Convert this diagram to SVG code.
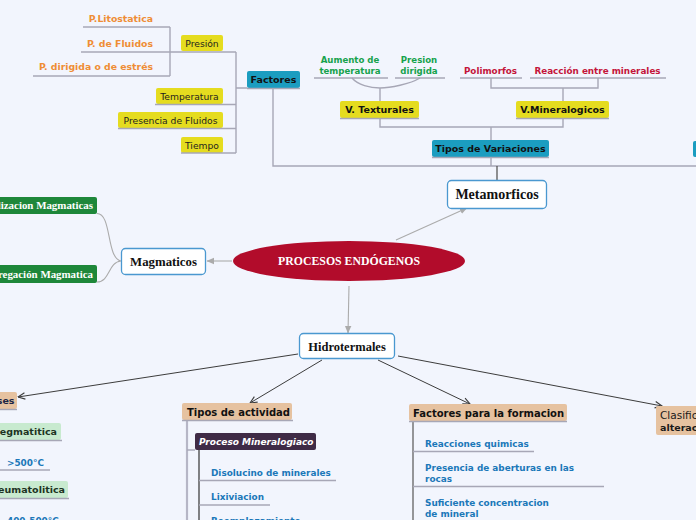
<svg xmlns="http://www.w3.org/2000/svg" width="696" height="520" viewBox="0 0 696 520">
<defs>
<style>
.bg{fill:#f2f5fd}
.ln{stroke:#a7a7b6;stroke-width:1.4;fill:none}
.dk{stroke:#4a4a4a;stroke-width:1.2;fill:none}
.ga{stroke:#ababab;stroke-width:1.1;fill:none}
.ha{stroke:#3c3c3c;stroke-width:1;fill:none}
.yel{fill:#e5dc1f}
.teal{fill:#1b9dc0}
.tan{fill:#e6c2a0}
.lg{fill:#c8eacf}
.dg{fill:#1e873a}
.pur{fill:#3f2b46}
.box{fill:#ffffff;stroke:#4a98d0;stroke-width:1.3}
.s{font-family:"DejaVu Sans",Verdana,sans-serif}
.sf{font-family:"Liberation Serif","Times New Roman",serif;font-weight:bold}
.b{font-weight:bold}
.yt{font-size:9.2px;fill:#1e1e1e;text-anchor:middle}
.hd{font-size:9.5px;fill:#111;font-weight:bold}
.or{font-size:9.3px;fill:#ef8d35;font-weight:bold;text-anchor:end}
.gr{font-size:8.6px;fill:#16a24c;font-weight:bold;text-anchor:middle}
.rd{font-size:8.8px;fill:#c4153a;font-weight:bold;text-anchor:middle}
.bl{font-size:8.9px;fill:#1b78b9;font-weight:bold}
</style>
<marker id="ag" viewBox="0 0 8 8" refX="7" refY="4" markerWidth="8" markerHeight="8" markerUnits="userSpaceOnUse" orient="auto">
<path d="M0,0.8 L7.5,4 L0,7.2 Z" fill="#ababab"/>
</marker>
<marker id="ad" viewBox="0 0 8 8" refX="7.5" refY="4" markerWidth="8" markerHeight="8" markerUnits="userSpaceOnUse" orient="auto">
<path d="M0.5,0.8 L7.5,4 L0.5,7.2" fill="none" stroke="#3c3c3c" stroke-width="1.1"/>
</marker>
</defs>
<rect class="bg" x="0" y="0" width="696" height="520"/>

<g id="connectors">
<path class="ln" d="M170 27 V76 M170 52 H181"/>
<path class="ln" d="M236 52 V153 M236 88 H247"/>
<path class="ln" d="M273 88 V166 H696"/>
<path class="ln" d="M352 78 C358 85 370 88 380 88 C390 88 410 84 420 78 M380 88 V102"/>
<path class="ln" d="M491 78 V88 H598 V78 M563 88 V102"/>
<path class="ln" d="M380 118 V127 H563 V118 M491 127 V141"/>
<path class="ln" d="M491 157 V166"/>
<path class="dk" d="M497 166 V181"/>
<path class="ga" d="M232 261 H207" marker-end="url(#ag)"/>
<path class="ga" d="M396 240 L467 208" marker-end="url(#ag)"/>
<path class="ga" d="M349 286 L348 333" marker-end="url(#ag)"/>
<path class="ga" d="M97 213.5 C112 213.5 106 258 121 261 M97 282 C110 282 108 262 121 261"/>
<path class="ha" d="M298 354 L18 397" marker-end="url(#ad)"/>
<path class="ha" d="M322 360 L250 403" marker-end="url(#ad)"/>
<path class="ha" d="M378 360 L470 404" marker-end="url(#ad)"/>
<path class="ha" d="M398 356 L662 406" marker-end="url(#ad)"/>
<path d="M187 420 V520" stroke="#b6b6c6" stroke-width="2.2" fill="none"/>
<path class="ln" d="M187 450 H195"/>
<path d="M199 450 V520" stroke="#333" stroke-width="1.2" fill="none"/>
<path d="M413 421 V520" stroke="#555" stroke-width="1.2" fill="none"/>
</g>

<g id="n-litostatica"><text class="s or" x="153" y="22">P.Litostatica</text><path class="ln" d="M83 27 H170"/></g>
<g id="n-pfluidos"><text class="s or" x="153" y="46.5">P. de Fluidos</text><path class="ln" d="M81 52 H170"/></g>
<g id="n-pdirigida"><text class="s or" x="153" y="70">P. dirigida o de estrés</text><path class="ln" d="M33 76 H170"/></g>

<g id="n-presion"><rect class="yel" x="181" y="35" width="42" height="16" rx="2"/><text class="s yt" x="202" y="46.5">Presión</text><path class="ln" d="M181 52 H236"/></g>
<g id="n-temperatura"><rect class="yel" x="156" y="88" width="67" height="16" rx="2"/><text class="s yt" x="189.5" y="99.5">Temperatura</text><path class="ln" d="M155 104.5 H236"/></g>
<g id="n-presencia"><rect class="yel" x="118" y="112" width="105" height="16" rx="2"/><text class="s yt" x="170.5" y="123.5">Presencia de Fluidos</text><path class="ln" d="M118 128.5 H236"/></g>
<g id="n-tiempo"><rect class="yel" x="181" y="137" width="42" height="16" rx="2"/><text class="s yt" x="202" y="148.5">Tiempo</text><path class="ln" d="M181 153 H236"/></g>

<g id="n-factores"><rect class="teal" x="247" y="71" width="53" height="17" rx="2"/><text class="s hd" x="273.5" y="83.3" text-anchor="middle">Factores</text><path class="ln" d="M247 88.5 H300"/></g>

<g id="n-aumento"><text class="s gr" x="350" y="62.5">Aumento de</text><text class="s gr" x="350" y="73.5">temperatura</text><path class="ln" d="M314 78 H388"/></g>
<g id="n-presiondirigida"><text class="s gr" x="419" y="62.5">Presion</text><text class="s gr" x="419" y="73.5">dirigida</text><path class="ln" d="M395 78 H445"/></g>
<g id="n-polimorfos"><text class="s rd" x="490.5" y="74">Polimorfos</text><path class="ln" d="M460 78 H522"/></g>
<g id="n-reaccion"><text class="s rd" x="597.5" y="74">Reacción entre minerales</text><path class="ln" d="M530 78 H666"/></g>

<g id="n-vtexturales"><rect class="yel" x="340" y="101" width="79" height="17" rx="2"/><text class="s hd" x="379.5" y="113.3" text-anchor="middle">V. Texturales</text><path class="ln" d="M340 118.5 H419"/></g>
<g id="n-vmineralogicos"><rect class="yel" x="516" y="101" width="93" height="17" rx="2"/><text class="s hd" x="562.5" y="113.3" text-anchor="middle">V.Mineralogicos</text><path class="ln" d="M516 118.5 H609"/></g>
<g id="n-tiposvariaciones"><rect class="teal" x="432" y="140" width="117" height="17" rx="2"/><text class="s hd" x="490.5" y="152.3" text-anchor="middle">Tipos de Variaciones</text><path class="ln" d="M432 157.5 H549"/></g>
<g id="n-right-teal"><rect class="teal" x="693" y="141" width="20" height="16" rx="2"/></g>

<g id="n-metamorficos"><rect class="box" x="447.5" y="180.5" width="99" height="28" rx="4"/><text class="sf" x="497" y="199" font-size="14" text-anchor="middle" fill="#111">Metamorficos</text></g>

<g id="n-central"><ellipse cx="349" cy="261" rx="116" ry="20" fill="#b20c2b"/><text class="sf" x="349" y="265.3" font-size="11.8" text-anchor="middle" fill="#ffffff">PROCESOS ENDÓGENOS</text></g>

<g id="n-magmaticos"><rect class="box" x="121.5" y="248.5" width="84" height="26" rx="4"/><text class="sf" x="163.5" y="266" font-size="12.8" text-anchor="middle" fill="#111">Magmaticos</text></g>
<g id="n-cristalizacion"><rect class="dg" x="-5" y="197" width="102" height="17" rx="2"/><text class="sf" x="93" y="209.3" font-size="10.9" text-anchor="end" fill="#ffffff">Cristalizacion Magmaticas</text></g>
<g id="n-segregacion"><rect class="dg" x="-5" y="265" width="102" height="18" rx="2"/><text class="sf" x="93" y="278" font-size="10.9" text-anchor="end" fill="#ffffff">Segregación Magmatica</text></g>

<g id="n-hidrotermales"><rect class="box" x="299.5" y="333.5" width="95" height="25" rx="4"/><text class="sf" x="347" y="350.5" font-size="12.5" text-anchor="middle" fill="#111">Hidrotermales</text></g>

<g id="n-fases"><rect class="tan" x="-10" y="392" width="27" height="17" rx="2"/><text class="s hd" x="14.5" y="404.3" text-anchor="end" style="fill:#1c2545">Fases</text><path class="ln" d="M0 409.5 H17"/></g>
<g id="n-pegmatitica"><rect class="lg" x="-5" y="423" width="66" height="17" rx="2"/><text class="s hd" x="57" y="435" text-anchor="end" style="fill:#1d3323">Pegmatitica</text><path class="ln" d="M0 440.5 H62"/></g>
<g id="n-500"><text class="s bl" x="7" y="466">&gt;500°C</text><path class="ln" d="M0 470 H50"/></g>
<g id="n-neumatolitica"><rect class="lg" x="-5" y="481" width="73" height="17" rx="2"/><text class="s hd" x="65" y="493" text-anchor="end" style="fill:#1d3323">Neumatolitica</text><path class="ln" d="M0 498.5 H69"/></g>
<g id="n-400"><text class="s bl" x="7" y="524">400-500°C</text></g>

<g id="n-tiposactividad"><rect class="tan" x="182" y="403" width="110" height="17" rx="2"/><text class="s hd" x="187" y="415.5" style="font-size:10px">Tipos de actividad</text><path class="ln" d="M182 420.5 H293"/></g>
<g id="n-proceso"><rect class="pur" x="195" y="433" width="121" height="17" rx="2"/><text class="s" x="199" y="445" font-size="9" font-weight="bold" font-style="italic" fill="#ffffff">Proceso Mineralogiaco</text></g>
<g id="n-disolucion"><text class="s bl" x="211" y="476">Disolucino de minerales</text><path class="ln" d="M199 480.5 H336"/></g>
<g id="n-lixiviacion"><text class="s bl" x="211" y="500">Lixiviacion</text><path class="ln" d="M199 505 H270"/></g>
<g id="n-reemplazamiento"><text class="s bl" x="211" y="524">Reemplazamiento</text></g>

<g id="n-factoresformacion"><rect class="tan" x="409" y="404" width="158" height="17" rx="2"/><text class="s hd" x="413" y="416.5" style="font-size:10px">Factores para la formacion</text><path class="ln" d="M409 421.5 H567"/></g>
<g id="n-reacciones"><text class="s bl" x="425" y="447">Reacciones quimicas</text><path class="ln" d="M413 451.5 H534"/></g>
<g id="n-aberturas"><text class="s bl" x="425" y="471">Presencia de aberturas en las</text><text class="s bl" x="425" y="482">rocas</text><path class="ln" d="M413 486.5 H604"/></g>
<g id="n-suficiente"><text class="s bl" x="425" y="506">Suficiente concentracion</text><text class="s bl" x="425" y="517">de mineral</text></g>

<g id="n-clasificacion"><rect class="tan" x="656" y="406" width="50" height="29" rx="2"/><text class="s" x="660" y="419" font-size="10.5" fill="#1a1a1a">Clasificacion de</text><text class="s b" x="660" y="430.5" font-size="9.5" fill="#1a1a1a">alteraciones</text></g>
</svg>
